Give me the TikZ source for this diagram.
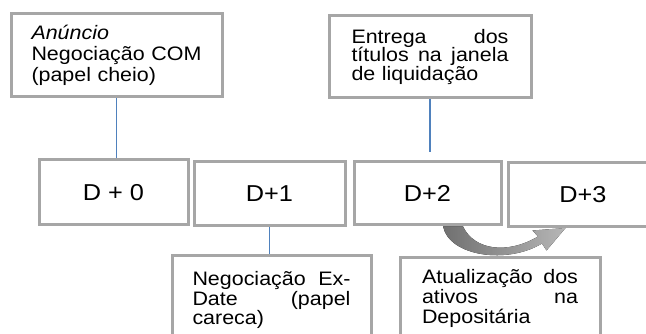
\documentclass[tikz,border=0pt]{standalone}
\usepackage{fontspec}
\setmainfont{Liberation Sans}[FakeStretch=1.1]
\usepackage{xcolor}
\usepackage{tikz}

\definecolor{boxgray}{RGB}{166,166,166}
\definecolor{linkblue}{RGB}{79,129,189}
\definecolor{arrowdark}{RGB}{112,112,112}
\definecolor{arrowlight}{RGB}{182,182,182}
\newcommand{\gap}{\hspace{0pt plus 1filll}}

\begin{document}
\begin{tikzpicture}[x=1pt, y=-1pt,
    box/.style={draw=boxgray, line width=3pt, fill=white, inner sep=0pt, align=left},
    daybox/.style={draw=boxgray, line width=3pt, fill=white, inner sep=0pt, font=\fontsize{23}{27}\selectfont},
    link/.style={draw=linkblue, line width=1.3pt}]
            \clip (0,0) rectangle (646,334);

            % Nodes
            \node[box, font=\fontsize{19.5}{21}\selectfont, text width=170pt, minimum width=211pt, minimum height=83pt] (anuncio) at (116.5,55.5) {\textit{Anúncio}\\Negociação\gap COM\\(papel cheio)};
            \node[box, font=\fontsize{19.5}{18.5}\selectfont, text width=157pt, minimum width=202pt, minimum height=82pt] (entrega) at (430,57) {Entrega\gap dos\\títulos\gap na\gap janela\\de liquidação};
            \node[daybox, minimum width=149pt, minimum height=65pt] (d0) at (113.5,192.5) {D + 0};
            \node[daybox, minimum width=151pt, minimum height=64pt] (d1) at (269.5,194) {D+1};
            \node[daybox, minimum width=147pt, minimum height=63pt] (d2) at (427.5,193.5) {D+2};
            \node[daybox, minimum width=150pt, minimum height=64pt] (d3) at (583,195) {D+3};
            \node[box, font=\fontsize{19.5}{17}\selectfont, text width=158pt, minimum width=199pt, minimum height=88pt] (exdate) at (271.5,300) {Negociação\gap Ex-\\Date\gap (papel\\careca)};
            \node[box, font=\fontsize{19.5}{20}\selectfont, text width=156pt, minimum width=200pt, minimum height=81pt] (atual) at (500,298.5) {Atualização\gap dos\\ativos\gap na\\Depositária};

            % Edges
            \draw[link] (anuncio.south) -- (anuncio.south |- d0.north);
            \draw[link] (entrega.south) -- ([yshift=8pt]entrega.south |- d2.north);
            \draw[link] (d1.south) -- (d1.south |- exdate.north);

            % curved arrow D+2 -> D+3
            \fill[left color=arrowdark, right color=arrowlight, shift={(d2.south)}]
                (15.5,0) .. controls (22,30) and (80,38) .. (114.5,17)
                -- (119,24) -- (138,1.5) -- (105,4) -- (110.5,10)
                .. controls (80,28) and (47,24) .. (35.5,0) -- cycle;
        \end{tikzpicture}
\end{document}
